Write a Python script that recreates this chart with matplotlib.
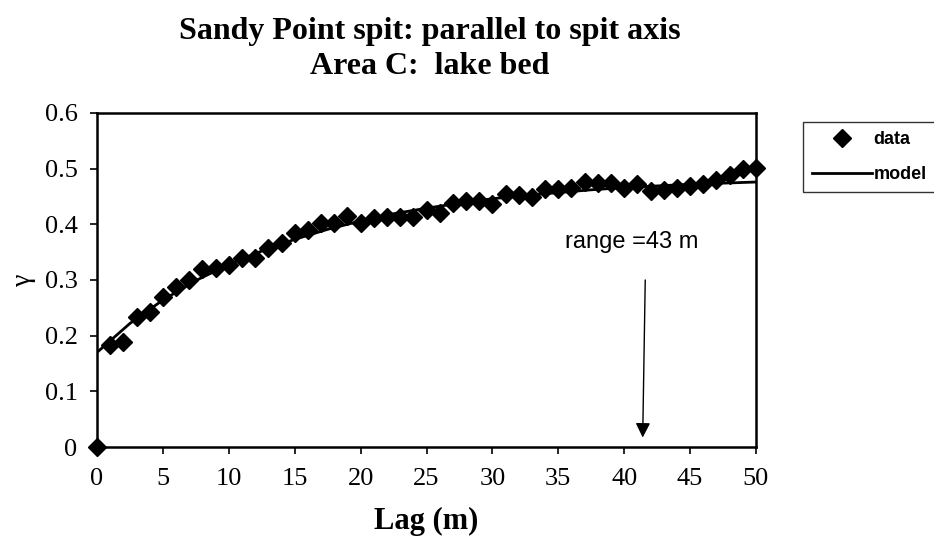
import numpy as np
import matplotlib.pyplot as plt

# experimental semivariogram (lag in m, gamma)
lag = list(range(0, 51))
gamma = [0.0, 0.183, 0.189, 0.233, 0.243, 0.270, 0.288, 0.300, 0.319, 0.321,
         0.327, 0.339, 0.339, 0.357, 0.366, 0.384, 0.390, 0.402, 0.402, 0.415,
         0.402, 0.411, 0.413, 0.413, 0.414, 0.426, 0.421, 0.438, 0.442, 0.442,
         0.437, 0.455, 0.452, 0.449, 0.464, 0.464, 0.466, 0.476, 0.474, 0.474,
         0.466, 0.472, 0.460, 0.462, 0.465, 0.468, 0.473, 0.480, 0.488, 0.500,
         0.502]

# fitted model curve
model_lag = [0, 2.5, 5, 7.5, 10, 12.5, 15, 17.5, 20, 22.5, 25, 27.5, 30,
             32.5, 35, 37.5, 40, 42.5, 45, 47.5, 50]
model_gamma = [0.170, 0.222, 0.264, 0.299, 0.328, 0.352, 0.373, 0.391, 0.406,
               0.419, 0.429, 0.438, 0.446, 0.452, 0.457, 0.462, 0.466, 0.469,
               0.472, 0.474, 0.476]

range_lag = 41.4


def PlotVariogram():
    plt.rc("font", family="Liberation Serif", size=14)
    fig = plt.figure(figsize=(9.34, 5.46), dpi=100)
    ax = fig.add_axes([97 / 934, 1 - 447 / 546, 659 / 934, 334 / 546])

    ax.plot(lag, gamma, linestyle="none", marker="D", markersize=9.5,
            color="black", label="data", clip_on=False, zorder=3)
    ax.plot(model_lag, model_gamma, linestyle="-", linewidth=2,
            color="black", label="model", zorder=2)

    ax.set_xlim(0, 50)
    ax.set_ylim(0, 0.6)
    ax.set_xticks(range(0, 51, 5))
    ax.set_yticks([0, 0.1, 0.2, 0.3, 0.4, 0.5, 0.6])
    ax.set_yticklabels(["0", "0.1", "0.2", "0.3", "0.4", "0.5", "0.6"])
    ax.tick_params(direction="out", length=5, width=1.2, labelsize=19)
    ax.tick_params(axis="x", pad=10)
    ax.tick_params(axis="y", pad=9)
    for s in ax.spines.values():
        s.set_linewidth(1.8)

    ax.annotate("", xy=(range_lag, 0.012), xytext=(range_lag + 0.2, 0.305),
                arrowprops=dict(arrowstyle="-|>", color="black", lw=1,
                                mutation_scale=22))
    ax.text(40.6, 0.368, "range =43 m", family="Liberation Sans", fontsize=17,
            ha="center", va="center")

    ax.set_xlabel("Lag (m)", fontsize=22, fontweight="bold", labelpad=12)
    ax.set_ylabel("\u03b3", fontsize=20, labelpad=6)

    fig.text(430 / 934, 1 - 31 / 546, "Sandy Point spit: parallel to spit axis",
             ha="center", va="center", fontsize=23, fontweight="bold")
    fig.text(430 / 934, 1 - 66 / 546, "Area C:  lake bed",
             ha="center", va="center", fontsize=23, fontweight="bold")

    leg = fig.legend(loc="upper left", bbox_to_anchor=(803 / 934, 1 - 122 / 546),
                     borderaxespad=0, frameon=True, fancybox=False,
                     edgecolor="black",
                     prop=dict(family="Liberation Sans", weight="bold", size=13),
                     handlelength=3.3, handletextpad=0.1, borderpad=0.5,
                     labelspacing=1.0)
    leg.get_frame().set_linewidth(1)

    plt.savefig("out.png", dpi=100)


if __name__ == "__main__":
    PlotVariogram()
